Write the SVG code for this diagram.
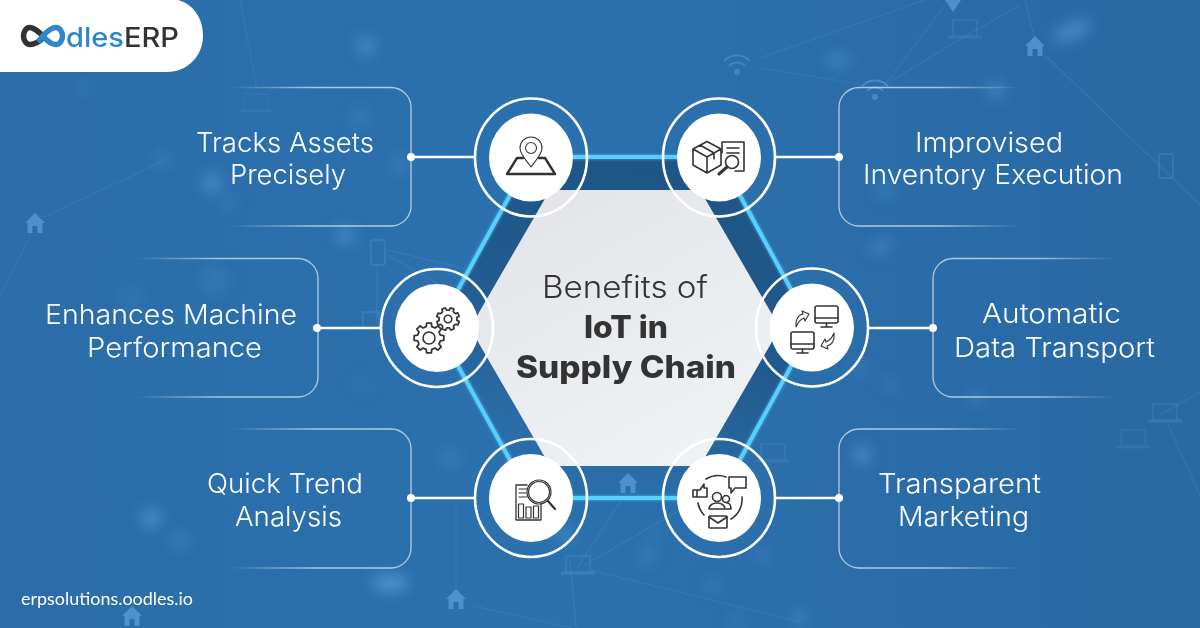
<svg xmlns="http://www.w3.org/2000/svg" width="1200" height="628" viewBox="0 0 1200 628">
<style>
.lbl{font-family:"Inter","Liberation Sans",sans-serif;font-weight:350;font-size:27.5px;fill:#fff}
.ttl{font-family:"Inter","Liberation Sans",sans-serif;font-size:31px;fill:#333}
.ring{fill:none;stroke:#fff;stroke-width:2.6}
.disc{fill:#fff}
.ic{fill:none;stroke:#333;stroke-width:1.6;stroke-linejoin:round;stroke-linecap:round}
.link{stroke:#fff;stroke-width:2.6;fill:none}
.dot{fill:#fff}
.net{stroke:#6aa6dc;stroke-width:1.2;fill:none;opacity:.2}
.deco{fill:#5c9fdb;opacity:.7}
.decoL{fill:none;stroke:#5c9fdb;stroke-width:2;opacity:.25}
.blob{fill:#5fa3de}
</style>
<defs>
<linearGradient id="bg" x1="0" y1="0" x2="1" y2="0"><stop offset="0" stop-color="#2a6dA9"/><stop offset=".45" stop-color="#2b71ae"/><stop offset="1" stop-color="#2969a4"/></linearGradient>
<linearGradient id="darkHex" x1=".75" y1="0" x2=".35" y2="1"><stop offset="0" stop-color="#1e5485"/><stop offset=".5" stop-color="#215a8e"/><stop offset=".9" stop-color="#2a6ea9"/></linearGradient>
<linearGradient id="lightHex" x1="0" y1="0" x2=".6" y2="1"><stop offset="0" stop-color="#e1e3e7"/><stop offset="1" stop-color="#eff2f5"/></linearGradient>
<linearGradient id="fadeL" x1="0" y1="0" x2="1" y2="0"><stop offset="0" stop-color="#fff" stop-opacity="0"/><stop offset=".45" stop-color="#fff" stop-opacity=".6"/><stop offset="1" stop-color="#fff" stop-opacity=".65"/></linearGradient>
<linearGradient id="fadeR" x1="1" y1="0" x2="0" y2="0"><stop offset="0" stop-color="#fff" stop-opacity="0"/><stop offset=".45" stop-color="#fff" stop-opacity=".6"/><stop offset="1" stop-color="#fff" stop-opacity=".65"/></linearGradient>
<filter id="b8" x="-100%" y="-100%" width="300%" height="300%"><feGaussianBlur stdDeviation="7"/></filter>
<filter id="glow" x="-10%" y="-10%" width="120%" height="120%"><feGaussianBlur stdDeviation="1"/></filter>
<path id="home" d="M0 -11 L10 -1 L7.5 -1 L7.5 9 L2.500 9 L2.500 2 L-2.500 2 L-2.500 9 L-7.5 9 L-7.5 -1 L-10 -1 Z"/>
<polygon id="gear" points=".757,-.189 .988,-.156 .988,.156 .757,.189 .669,.402 .809,.588 .588,.809 .402,.669 .189,.757 .156,.988 -.156,.988 -.189,.757 -.402,.669 -.588,.809 -.809,.588 -.669,.402 -.757,.189 -.988,.156 -.988,-.156 -.757,-.189 -.669,-.402 -.809,-.588 -.588,-.809 -.402,-.669 -.189,-.757 -.156,-.988 .156,-.988 .189,-.757 .402,-.669 .588,-.809 .809,-.588 .669,-.402"/>
<g id="wifi"><path d="M-13 -4 A18 18 0 0 1 13 -4 M-8 1 A11 11 0 0 1 8 1" fill="none" stroke="#5c9fdb" stroke-width="2"/><circle cx="0" cy="7" r="3" fill="#5c9fdb"/></g>
<g id="laptop"><rect x="-12" y="-14" width="24" height="16" fill="none" stroke="#5c9fdb" stroke-width="1.6"/><path d="M-17 3 H17" stroke="#5c9fdb" stroke-width="3"/></g>
</defs>

<g id="background">
<rect width="1200" height="628" fill="url(#bg)"/>
<g filter="url(#b8)">
<circle class="blob" cx="366" cy="46" r="9" opacity=".5"/>
<circle class="blob" cx="85" cy="88" r="9" opacity=".12"/>
<circle class="blob" cx="212" cy="183" r="10" opacity=".5"/>
<circle class="blob" cx="229" cy="203" r="7" opacity=".25"/>
<circle class="blob" cx="400" cy="165" r="8" opacity=".3"/>
<circle class="blob" cx="360" cy="118" r="10" opacity=".2"/>
<circle class="blob" cx="162" cy="160" r="8" opacity=".25"/>
<circle class="blob" cx="345" cy="235" r="9" opacity=".5"/>
<circle class="blob" cx="215" cy="280" r="14" opacity=".18"/>
<circle class="blob" cx="130" cy="298" r="14" opacity=".1"/>
<circle class="blob" cx="362" cy="385" r="9" opacity=".12"/>
<ellipse class="blob" cx="1072" cy="31" rx="20" ry="8" opacity=".55" transform="rotate(-25 1072 31)"/>
<ellipse class="blob" cx="838" cy="60" rx="12" ry="6" opacity=".45"/>
<circle class="blob" cx="996" cy="90" r="9" opacity=".4"/>
<ellipse class="blob" cx="880" cy="247" rx="12" ry="6" opacity=".4" transform="rotate(-30 880 247)"/>
<circle class="blob" cx="885" cy="190" r="9" opacity=".25"/>
<circle class="blob" cx="860" cy="370" r="9" opacity=".18"/>
<circle class="blob" cx="890" cy="385" r="7" opacity=".22"/>
<circle class="blob" cx="976" cy="398" r="7" opacity=".3"/>
<circle class="blob" cx="862" cy="455" r="9" opacity=".55"/>
<circle class="blob" cx="151" cy="518" r="10" opacity=".55"/>
<circle class="blob" cx="180" cy="541" r="9" opacity=".28"/>
<ellipse class="blob" cx="390" cy="583" rx="18" ry="8" opacity=".7"/>
<circle class="blob" cx="450" cy="458" r="10" opacity=".2"/>
<circle class="blob" cx="565" cy="535" r="8" opacity=".45"/>
<circle class="blob" cx="647" cy="555" r="8" opacity=".3"/>
<circle class="blob" cx="655" cy="533" r="7" opacity=".18"/>
<circle class="blob" cx="713" cy="585" r="9" opacity=".18"/>
<circle class="blob" cx="800" cy="617" r="8" opacity=".35"/>
<circle class="blob" cx="737" cy="620" r="8" opacity=".18"/>
<circle class="blob" cx="762" cy="555" r="9" opacity=".18"/>
</g>
<g id="network">
<path class="net" d="M240 0 L257 90"/>
<path class="net" d="M44 217 L165 160"/>
<path class="net" d="M32 232 L0 296"/>
<path class="net" d="M1045 55 L1200 205"/>
<path class="net" d="M1025 0 L1035 40"/>
<path class="net" d="M885 85 L945 5"/>
<path class="net" d="M890 82 L955 42 L1020 5"/>
<path class="net" d="M760 68 L860 84"/>
<path class="net" d="M760 58 L925 0"/>
<path class="net" d="M388 255 L440 285"/>
<path class="net" d="M388 250 L470 270"/>
<path class="net" d="M377 265 L377 320"/>
<path class="net" d="M576 570 L628 490"/>
<path class="net" d="M585 565 L680 510"/>
<path class="net" d="M570 560 L576 628"/>
<path class="net" d="M590 570 L800 622"/>
<path class="net" d="M456 590 L456 505"/>
<path class="net" d="M470 605 L572 628"/>
<path class="net" d="M1160 415 L1200 392"/>
<path class="net" d="M1168 425 L1200 495"/>
</g>
<g id="decor">
<use href="#home" class="deco" x="35" y="224"/>
<use href="#home" class="deco" x="1035" y="47"/>
<use href="#home" class="deco" x="456" y="600"/>
<use href="#home" class="deco" x="132" y="617"/>
<use href="#wifi" x="737" y="65" opacity=".45"/>
<use href="#wifi" x="875" y="90" opacity=".6"/>
<path d="M945 0 H961 L953 12 Z" class="deco"/>
<use href="#laptop" x="965" y="34" opacity=".22"/>
<use href="#laptop" x="256" y="108" opacity=".15"/>
<use href="#laptop" x="578" y="570" opacity=".3"/>
<use href="#laptop" x="1165" y="418" opacity=".25"/>
<use href="#laptop" x="1133" y="444" opacity=".18"/>
<use href="#laptop" x="773" y="458" opacity=".22"/>
<rect class="decoL" x="371" y="240" width="14" height="25" rx="2"/>
<rect class="decoL" x="1159" y="154" width="14" height="24" rx="2" opacity=".15"/>
<rect class="decoL" x="363" y="312" width="16" height="16" opacity=".2"/>
</g>
</g>

<g id="connectors">
<path d="M230 87.5 H391 a20 20 0 0 1 20 20 V206 a20 20 0 0 1 -20 20 H230" fill="none" stroke="url(#fadeL)" stroke-width="1.3"/>
<path d="M135 258.5 H298 a20 20 0 0 1 20 20 V377 a20 20 0 0 1 -20 20 H135" fill="none" stroke="url(#fadeL)" stroke-width="1.3"/>
<path d="M230 429 H391 a20 20 0 0 1 20 20 V548 a20 20 0 0 1 -20 20 H230" fill="none" stroke="url(#fadeL)" stroke-width="1.3"/>
<path d="M1022 87.5 H859 a20 20 0 0 0 -20 20 V206 a20 20 0 0 0 20 20 H1022" fill="none" stroke="url(#fadeR)" stroke-width="1.3"/>
<path d="M1117 258.5 H953 a20 20 0 0 0 -20 20 V377 a20 20 0 0 0 20 20 H1117" fill="none" stroke="url(#fadeR)" stroke-width="1.3"/>
<path d="M1022 429 H859 a20 20 0 0 0 -20 20 V548 a20 20 0 0 0 20 20 H1022" fill="none" stroke="url(#fadeR)" stroke-width="1.3"/>
<path class="link" d="M411 157 H475 M317 328 H381 M411 498 H475 M775 157 H839 M868 328 H933 M775 498 H839"/>
<circle class="dot" cx="411" cy="157" r="4"/><circle class="dot" cx="317" cy="328" r="4"/><circle class="dot" cx="411" cy="498" r="4"/>
<circle class="dot" cx="839" cy="157" r="4"/><circle class="dot" cx="933" cy="328" r="4"/><circle class="dot" cx="839" cy="498" r="4"/>
</g>

<g id="hexagon">
<polygon points="531,157 719,157 812,328 719,498 531,498 437,328" fill="url(#darkHex)"/>
<polygon points="531,157 719,157 812,328 719,498 531,498 437,328" fill="none" stroke="#49c4fb" stroke-width="6" opacity=".45" filter="url(#glow)"/>
<polygon points="531,157 719,157 812,328 719,498 531,498 437,328" fill="none" stroke="#58cffd" stroke-width="4"/>
<polygon points="550,190 700,190 780,328 700,466 550,466 470,328" fill="url(#lightHex)"/>
<use href="#home" x="628" y="484" class="deco"/>
<text class="ttl" x="542" y="298" font-weight="350" textLength="166" lengthAdjust="spacingAndGlyphs">Benefits of</text>
<text class="ttl" x="584" y="338" font-weight="800" textLength="84" lengthAdjust="spacingAndGlyphs">IoT in</text>
<text class="ttl" x="516" y="378" font-weight="800" textLength="220" lengthAdjust="spacingAndGlyphs">Supply Chain</text>
</g>

<g id="node-tracks-assets">
<text class="lbl" x="196" y="152" textLength="178" lengthAdjust="spacingAndGlyphs">Tracks Assets</text>
<text class="lbl" x="230" y="184" textLength="116" lengthAdjust="spacingAndGlyphs">Precisely</text>
<ellipse class="ring" cx="531" cy="157.5" rx="56" ry="59"/><ellipse class="disc" cx="531" cy="157.5" rx="42" ry="44"/>
<g class="ic" stroke-width="1.2">
<path d="M531 167 C526 160 520 154 520 148 A11 11 0 0 1 542 148 C542 154 536 160 531 167 Z" stroke-width="1.1"/>
<circle cx="531" cy="148" r="5.5" stroke-width="1.1"/>
<path d="M523 158 H517 L507 174 H555 L545 158 H539" stroke-width="2.4"/>
</g>
</g>

<g id="node-inventory">
<text class="lbl" x="915" y="152" textLength="148" lengthAdjust="spacingAndGlyphs">Improvised</text>
<text class="lbl" x="863" y="184" textLength="260" lengthAdjust="spacingAndGlyphs">Inventory Execution</text>
<ellipse class="ring" cx="719" cy="157.5" rx="56" ry="59"/><ellipse class="disc" cx="719" cy="157.5" rx="42" ry="44"/>
<g class="ic">
<path d="M693 149 L707 141.500 L721 149 V165 L707 173 L693 165 Z M693 149 L707 157 L721 149 M707 157 V173 M700 145 L714 153 V159"/>
<path d="M722 142 H744 V171 H735 M722 142 V153"/>
<path d="M727 148 H739 M727 153 H739"/>
<circle cx="732" cy="162" r="6.500"/>
<path d="M727 167 L719 174" stroke-width="3"/>
</g>
</g>

<g id="node-machine">
<text class="lbl" x="45" y="324" textLength="252" lengthAdjust="spacingAndGlyphs">Enhances Machine</text>
<text class="lbl" x="87" y="357" textLength="175" lengthAdjust="spacingAndGlyphs">Performance</text>
<ellipse class="ring" cx="437" cy="328" rx="56" ry="59"/><ellipse class="disc" cx="437" cy="328" rx="42" ry="44"/>
<g class="ic">
<use href="#gear" transform="translate(429 338) scale(15)" style="stroke-width:.12"/>
<circle cx="429" cy="338" r="6"/>
<use href="#gear" transform="translate(448 319) rotate(22) scale(11.500)" style="stroke-width:.15"/>
<circle cx="448" cy="319" r="3.800"/>
</g>
</g>

<g id="node-data-transport">
<text class="lbl" x="982" y="323" textLength="139" lengthAdjust="spacingAndGlyphs">Automatic</text>
<text class="lbl" x="954" y="357" textLength="201" lengthAdjust="spacingAndGlyphs">Data Transport</text>
<ellipse class="ring" cx="812" cy="327.500" rx="56" ry="59"/><ellipse class="disc" cx="812" cy="327.500" rx="42" ry="44"/>
<g class="ic">
<rect x="815" y="306" width="23" height="17" rx="2"/><path d="M815 318 H838 M826.500 323 V327 M821 327 H832"/>
<rect x="791" y="332" width="23" height="17" rx="2"/><path d="M791 344 H814 M802.500 349 V353 M797 353 H808"/>
<path d="M796 327 C795 320 798 315 803 314 L802 311 L809 314 L805 321 L804 318 C801 319 798 322 796 327 Z" stroke-width="1.1"/>
<path d="M834 333 C835 340 832 345 827 346 L828 349 L821 346 L825 339 L826 342 C829 341 832 338 834 333 Z" stroke-width="1.1"/>
</g>
</g>

<g id="node-trend-analysis">
<text class="lbl" x="207" y="493" textLength="156" lengthAdjust="spacingAndGlyphs">Quick Trend</text>
<text class="lbl" x="235" y="526" textLength="107" lengthAdjust="spacingAndGlyphs">Analysis</text>
<ellipse class="ring" cx="531" cy="498" rx="56" ry="59"/><ellipse class="disc" cx="531" cy="498" rx="42" ry="44"/>
<g class="ic">
<path d="M527 485 H516 V520 H541 V504" stroke-width="1.3"/>
<path d="M519 489 H527 M519 493 H526 M519 497 H527" stroke-width="1.1"/>
<rect x="518.500" y="504" width="5" height="14" stroke-width="1.2"/><rect x="526" y="507" width="5" height="11" stroke-width="1.2"/><rect x="533.500" y="506" width="5" height="12" stroke-width="1.2"/>
<circle cx="539" cy="492" r="12" stroke-width="1.2"/><circle cx="539" cy="492" r="10.500" stroke-width="1.1"/>
<path d="M548 501 L555 509" stroke-width="2.200"/>
</g>
</g>

<g id="node-marketing">
<text class="lbl" x="878" y="493" textLength="163" lengthAdjust="spacingAndGlyphs">Transparent</text>
<text class="lbl" x="898" y="526" textLength="131" lengthAdjust="spacingAndGlyphs">Marketing</text>
<ellipse class="ring" cx="719" cy="498" rx="56" ry="59"/><ellipse class="disc" cx="719" cy="498" rx="42" ry="44"/>
<g class="ic">
<path d="M706 479 A23 23 0 0 1 726 477 M742 497 A23 23 0 0 1 731 519 M704 515 A23 23 0 0 1 698 503"/>
<path d="M729 477 H746 V488 H735 L731 493 V488 H729 Z"/>
<path d="M693 490 H697 V497 H693 Z M697 490 L700 490 L704 484 V488 H707 V497 H697"/>
<circle cx="717" cy="497" r="4.500"/><path d="M709 509 C709 501 725 501 725 509 Z"/>
<circle cx="726" cy="499" r="3.500"/><path d="M727 503 C731 503 731 509 731 509 H726"/>
<rect x="709" y="516" width="18" height="12" rx="1"/><path d="M709 517 L718 523 L727 517"/>
</g>
</g>

<g id="logo">
<path d="M0 0 H178 C195 5 203 20 203 36 C203 56 187 72 167 72 H0 Z" fill="#fff"/>
<path d="M44 37 C38 31 34 27.500 29.500 27.500 C26 27.500 23.500 32 23.500 36 C23.500 40 26 44.500 30 44.500 C36 44.500 40 41 44 37" fill="none" stroke="#333" stroke-width="5.500"/>
<path d="M38 42 C44 34 50 27.500 56 27.500 C60 27.500 62.500 32 62.500 36 C62.500 40 60 44.500 56 44.500 C50 44.500 47 40 43 36" fill="none" stroke="#2f87c9" stroke-width="5.500"/>
<text x="66" y="47" font-family="Inter, 'Liberation Sans', sans-serif" font-size="26.500" font-weight="500" textLength="113" lengthAdjust="spacingAndGlyphs"><tspan fill="#2f87c9">dles</tspan><tspan fill="#333">ERP</tspan></text>
</g>

<text id="site-url" x="21" y="605" font-family="Lato, 'Liberation Sans', sans-serif" font-size="17" fill="#fff" textLength="172" lengthAdjust="spacingAndGlyphs">erpsolutions.oodles.io</text>
</svg>
